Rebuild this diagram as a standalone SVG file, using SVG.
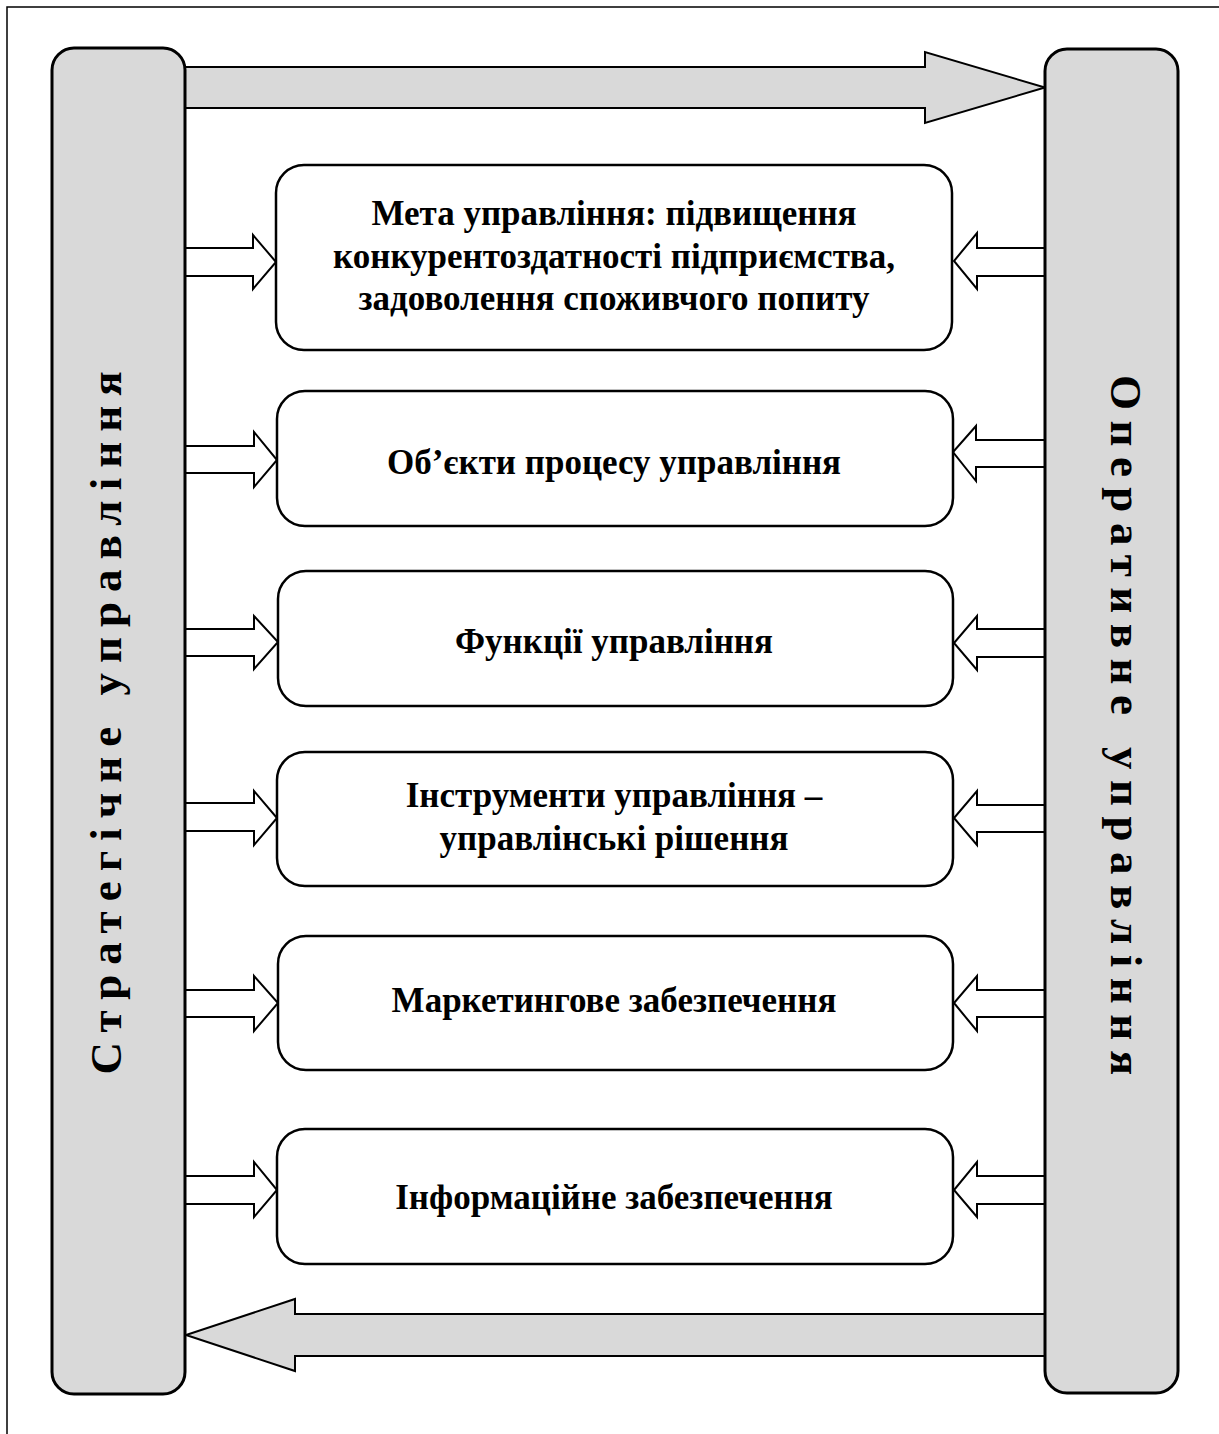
<svg xmlns="http://www.w3.org/2000/svg" width="1219" height="1434" viewBox="0 0 1219 1434">
<style>
.frame{fill:none;stroke:#000;stroke-width:1.5}
.bar{fill:#d9d9d9;stroke:#000;stroke-width:3}
.box{fill:#fff;stroke:#000;stroke-width:2.5}
.big{fill:#d9d9d9;stroke:#000;stroke-width:2}
.sm{fill:#fff;stroke:#000;stroke-width:2}
.t{font-family:"Liberation Serif","Times New Roman",serif;font-weight:bold;font-size:35px;fill:#000;text-anchor:middle}
.v{font-family:"Liberation Serif","Times New Roman",serif;font-weight:bold;font-size:45px;fill:#000;text-anchor:middle}
</style>
<rect x="7" y="7" width="1240" height="1460" class="frame"/>
<g id="connectors">
<polygon class="big" points="185,67 925,67 925,52 1045,87.5 925,123 925,108 185,108"/>
<polygon class="big" points="1045,1314 295,1314 295,1299 186,1335 295,1371 295,1356 1045,1356"/>
<polygon class="sm" points="185,248 253,248 253,235 276,262 253,289 253,276 185,276"/>
<polygon class="sm" points="185,446 254,446 254,432 277,460 254,487 254,473 185,473"/>
<polygon class="sm" points="185,629 254,629 254,616 278,642 254,669 254,656 185,656"/>
<polygon class="sm" points="185,803 254,803 254,791 277,818 254,845 254,831 185,831"/>
<polygon class="sm" points="185,990 254,990 254,976 278,1003 254,1031 254,1017 185,1017"/>
<polygon class="sm" points="185,1176 254,1176 254,1162 277,1190 254,1217 254,1204 185,1204"/>
<polygon class="sm" points="1045,248 977,248 977,233 954,261 977,289 977,276 1045,276"/>
<polygon class="sm" points="1045,440 976,440 976,426 953,452 976,481 976,467 1045,467"/>
<polygon class="sm" points="1045,629 977,629 977,616 954,643 977,670 977,657 1045,657"/>
<polygon class="sm" points="1045,805 977,805 977,791 954,818 977,845 977,832 1045,832"/>
<polygon class="sm" points="1045,990 977,990 977,976 954,1003 977,1031 977,1017 1045,1017"/>
<polygon class="sm" points="1045,1176 977,1176 977,1162 954,1190 977,1217 977,1204 1045,1204"/>
</g>
<g id="strategic">
<rect class="bar" x="52" y="48" width="133" height="1346" rx="22"/>
<text class="v" transform="translate(121,723) rotate(-90)" textLength="703" lengthAdjust="spacing">Стратегічне управління</text>
</g>
<g id="operative">
<rect class="bar" x="1045" y="49" width="133" height="1344" rx="22"/>
<text class="v" transform="translate(1111,725) rotate(90)" textLength="700" lengthAdjust="spacing">Оперативне управління</text>
</g>
<g id="goal">
<rect class="box" x="276" y="165" width="676" height="185" rx="28"/>
<text class="t" x="614" y="225">Мета управління: підвищення</text>
<text class="t" x="614" y="268">конкурентоздатності підприємства,</text>
<text class="t" x="614" y="310">задоволення споживчого попиту</text>
</g>
<g id="objects">
<rect class="box" x="277" y="391" width="676" height="135" rx="28"/>
<text class="t" x="614" y="474">Об’єкти процесу управління</text>
</g>
<g id="functions">
<rect class="box" x="278" y="571" width="675" height="135" rx="28"/>
<text class="t" x="614" y="653">Функції управління</text>
</g>
<g id="tools">
<rect class="box" x="277" y="752" width="676" height="134" rx="28"/>
<text class="t" x="614" y="807">Інструменти управління –</text>
<text class="t" x="614" y="850">управлінські рішення</text>
</g>
<g id="marketing">
<rect class="box" x="278" y="936" width="675" height="134" rx="28"/>
<text class="t" x="614" y="1012">Маркетингове забезпечення</text>
</g>
<g id="information">
<rect class="box" x="277" y="1129" width="676" height="135" rx="28"/>
<text class="t" x="614" y="1209">Інформаційне забезпечення</text>
</g>
</svg>
